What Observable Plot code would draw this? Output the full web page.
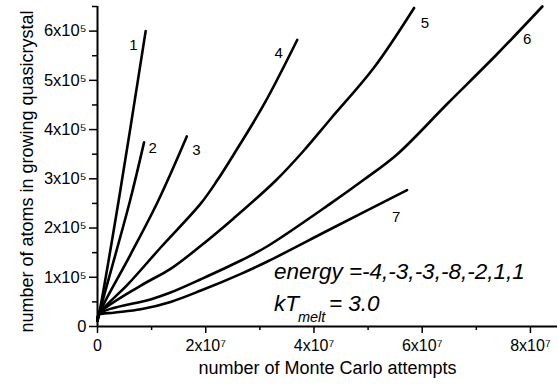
<!DOCTYPE html>
<html><head><meta charset="utf-8">
<script src="https://cdn.jsdelivr.net/npm/d3@7"></script>
<script src="https://cdn.jsdelivr.net/npm/@observablehq/plot@0.6"></script>
<style>body{margin:0;background:#fff}</style>
</head><body><div id="chart"></div>
<script>
// ---- data ----
const curveNames = ["1", "2", "3", "4", "5", "6", "7"];
const c1x = [0, 3e5, 3.9e6, 8.9e6];
const c1y = [1.2e4, 2.6e4, 2.55e5, 6.0e5];
const c2x = [0, 3e5, 6.0e6, 8.6e6];
const c2y = [1.2e4, 2.6e4, 2.55e5, 3.74e5];
const c3x = [0, 3e5, 6.0e6, 1.12e7, 1.65e7];
const c3y = [1.2e4, 2.6e4, 1.44e5, 2.55e5, 3.86e5];
const c4x = [0, 3e5, 5.65e6, 1.18e7, 1.91e7, 2.22e7, 2.52e7, 3.08e7, 3.69e7];
const c4y = [1.2e4, 2.6e4, 8.6e4, 1.62e5, 2.5e5, 2.98e5, 3.5e5, 4.52e5, 5.82e5];
const c5x = [0, 3e5, 8.0e6, 1.35e7, 1.91e7, 2.52e7, 3.29e7, 3.81e7, 4.31e7, 5.11e7, 5.85e7];
const c5y = [1.2e4, 2.6e4, 8.3e4, 1.17e5, 1.64e5, 2.2e5, 2.96e5, 3.57e5, 4.22e5, 5.26e5, 6.47e5];
const c6x = [0, 3e5, 9.8e6, 1.35e7, 1.91e7, 2.65e7, 3.14e7, 4.31e7, 4.92e7, 5.54e7, 6.46e7, 7.39e7, 8.22e7];
const c6y = [1.2e4, 2.6e4, 5.5e4, 6.9e4, 9.6e4, 1.34e5, 1.63e5, 2.5e5, 2.98e5, 3.5e5, 4.52e5, 5.54e5, 6.5e5];
const c7x = [0, 3e5, 3.0e6, 8.0e6, 1.35e7, 1.91e7, 2.65e7, 3.14e7, 4.31e7, 5.72e7];
const c7y = [1.2e4, 2.4e4, 2.8e4, 3.5e4, 5.0e4, 7.3e4, 1.07e5, 1.32e5, 1.98e5, 2.77e5];
const labelX = [6.65e6, 1.02e7, 1.83e7, 3.35e7, 6.05e7, 7.94e7, 5.52e7];
const labelY = [5.71e5, 3.63e5, 3.59e5, 5.56e5, 6.16e5, 5.83e5, 2.22e5];
const xTicks = [0, 2e7, 4e7, 6e7, 8e7];
const xMinor = [1e7, 3e7, 5e7, 7e7];
const yTicks = [0, 1e5, 2e5, 3e5, 4e5, 5e5, 6e5];
const yMinor = [5e4, 1.5e5, 2.5e5, 3.5e5, 4.5e5, 5.5e5, 6.5e5];
const xTickLabels = ["0", "2x10⁷", "4x10⁷", "6x10⁷", "8x10⁷"];
const yTickLabels = ["0", "1x10⁵", "2x10⁵", "3x10⁵", "4x10⁵", "5x10⁵", "6x10⁵"];
const xTitle = "number of Monte Carlo attempts";
const yTitle = "number of atoms in growing quasicrystal";
const noteEnergy = "energy =-4,-3,-3,-8,-2,1,1";
const noteKT = "kT";
const noteSub = "melt";
const noteVal = "= 3.0";

const xs = [c1x, c2x, c3x, c4x, c5x, c6x, c7x];
const ys = [c1y, c2y, c3y, c4y, c5y, c6y, c7y];
const rows = [];
curveNames.forEach((n, k) => xs[k].forEach((x, i) => rows.push({curve: n, x, y: ys[k][i]})));

const chart = Plot.plot({
  width: 558, height: 392,
  marginLeft: 97, marginRight: 1, marginTop: 6, marginBottom: 66,
  style: {fontFamily: "'Liberation Sans', Arial, sans-serif", background: "#fff", color: "#000"},
  x: {domain: [0, 8.5e7]},
  y: {domain: [0, 6.5e5]},
  marks: [
    Plot.axisX({ticks: xMinor, tickSize: 4, strokeWidth: 1.5, tickFormat: () => "", label: null}),
    Plot.axisX({ticks: xTicks, tickSize: 7, strokeWidth: 1.5, tickPadding: 6, fontSize: 16,
      tickFormat: d => xTickLabels[xTicks.indexOf(d)], label: null}),
    Plot.axisY({ticks: yMinor, tickSize: 5, strokeWidth: 1.5, tickFormat: () => "", label: null}),
    Plot.axisY({ticks: yTicks, tickSize: 8, strokeWidth: 1.5, tickPadding: 3, fontSize: 16.5,
      tickFormat: d => yTickLabels[yTicks.indexOf(d)], label: null}),
    Plot.ruleX([0], {strokeWidth: 2}),
    Plot.ruleY([0], {strokeWidth: 2}),
    Plot.line(rows, {x: "x", y: "y", z: "curve", stroke: "#000", strokeWidth: 2.6, curve: "catmull-rom"}),
    Plot.text(curveNames, {x: (d, i) => labelX[i], y: (d, i) => labelY[i], text: d => d, fontSize: 15}),
    Plot.text([noteEnergy], {x: 3.26e7, y: 9.63e4, text: d => d, textAnchor: "start", lineAnchor: "bottom", fontSize: 22.5, fontStyle: "italic"}),
    Plot.text([noteKT], {x: 3.26e7, y: 3.19e4, text: d => d, textAnchor: "start", lineAnchor: "bottom", fontSize: 22.5, fontStyle: "italic"}),
    Plot.text([noteSub], {x: 3.26e7, y: 3.19e4, dx: 24, dy: 11.5, text: d => d, textAnchor: "start", lineAnchor: "bottom", fontSize: 14.5, fontStyle: "italic"}),
    Plot.text([noteVal], {x: 3.26e7, y: 3.19e4, dx: 55, text: d => d, textAnchor: "start", lineAnchor: "bottom", fontSize: 22.5, fontStyle: "italic"}),
    Plot.text([xTitle], {frameAnchor: "bottom", dy: 47, text: d => d, fontSize: 18}),
    Plot.text([yTitle], {frameAnchor: "left", dx: -70, dy: 5, rotate: -90, textAnchor: "middle", text: d => d, fontSize: 18})
  ]
});
document.getElementById("chart").appendChild(chart);
</script>
</body></html>
